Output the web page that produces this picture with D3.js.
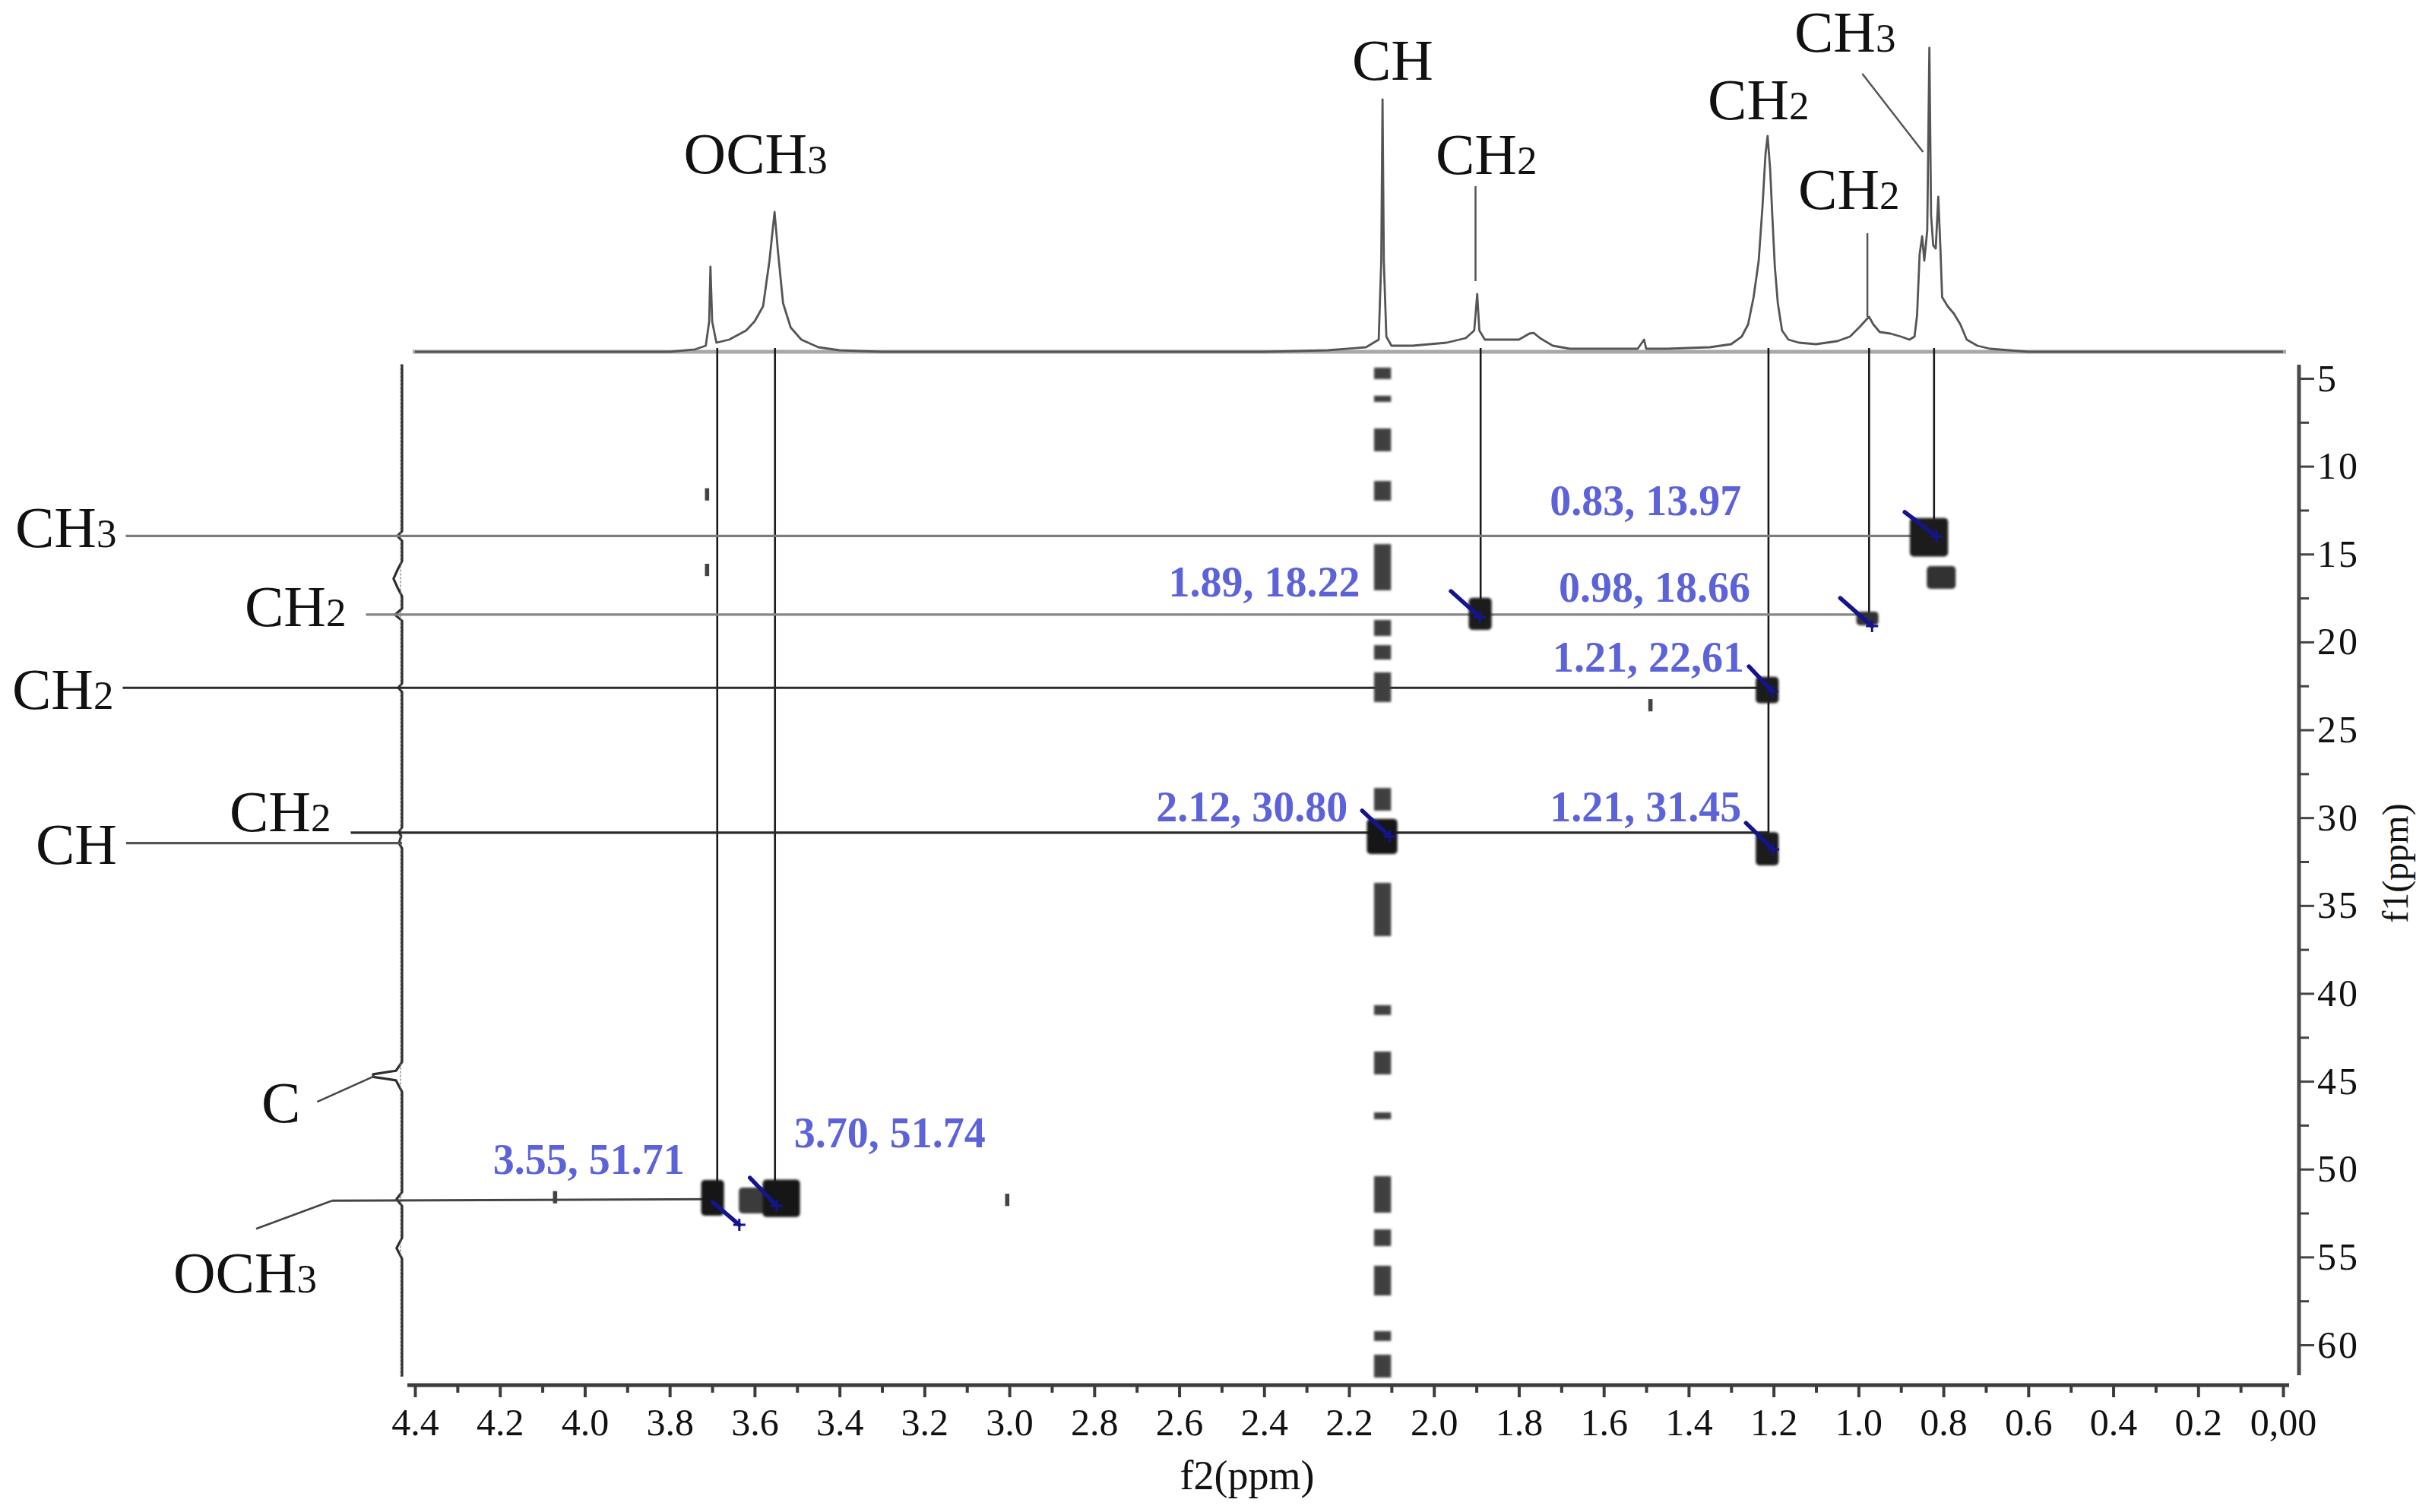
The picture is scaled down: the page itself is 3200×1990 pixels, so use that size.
<!DOCTYPE html>
<html><head><meta charset="utf-8">
<script src="https://cdn.jsdelivr.net/npm/d3@7/dist/d3.min.js"></script>
<style>
html,body{margin:0;padding:0;background:#fff;}
svg{display:block;font-family:"Liberation Serif","Times New Roman",serif;}
</style></head><body>
<svg id="chart" width="3200" height="1990"></svg>
<script>
// ---------------- DATA ----------------
const f2TickValues = [4.4,4.2,4.0,3.8,3.6,3.4,3.2,3.0,2.8,2.6,2.4,2.2,2.0,1.8,1.6,1.4,1.2,1.0,0.8,0.6,0.4,0.2,0.0];
const f2TickLabels = ["4.4","4.2","4.0","3.8","3.6","3.4","3.2","3.0","2.8","2.6","2.4","2.2","2.0","1.8","1.6","1.4","1.2","1.0","0.8","0.6","0.4","0.2","0,00"];
const f2MinorTicks = [4.3,4.1,3.9,3.7,3.5,3.3,3.1,2.9,2.7,2.5,2.3,2.1,1.9,1.7,1.5,1.3,1.1,0.9,0.7,0.5,0.3,0.1];
const f1TickValues = [5,10,15,20,25,30,35,40,45,50,55,60];
const f1TickLabels = ["5","10","15","20","25","30","35","40","45","50","55","60"];
const f1MinorTicks = [7.5,12.5,17.5,22.5,27.5,32.5,37.5,42.5,47.5,52.5,57.5];

// 1H projection (f2 ppm, intensity)
const protonSpectrum = [
 [4.40,0],[3.80,0],[3.74,0.8],[3.715,2],[3.707,10],[3.704,28],[3.700,10],[3.69,3],[3.66,4],[3.62,7],
 [3.60,10],[3.58,15],[3.565,30],[3.553,46],[3.545,33],[3.533,16],[3.515,8],[3.49,4],[3.45,1.5],[3.40,0.5],
 [3.30,0],[2.40,0],[2.25,0.5],[2.16,1.5],[2.13,4],[2.124,30],[2.121,83],[2.118,30],[2.112,5],[2.10,2],
 [2.05,2],[1.97,3],[1.925,4.5],[1.905,7],[1.898,19],[1.893,7],[1.88,4],[1.85,4],[1.80,4],[1.775,6],
 [1.765,6.2],[1.75,4.5],[1.72,2],[1.68,1],[1.60,1],[1.52,1],[1.505,4],[1.50,1],[1.45,1],[1.35,1.5],
 [1.30,2.5],[1.275,5],[1.26,9],[1.247,18],[1.235,30],[1.226,48],[1.219,65],[1.214,71],[1.208,60],[1.203,45],
 [1.197,28],[1.19,16],[1.18,7],[1.165,4],[1.14,3],[1.10,2.5],[1.05,3.5],[1.02,5],[0.995,8.5],[0.982,10.5],
 [0.975,11.5],[0.965,9],[0.95,6.5],[0.925,6],[0.90,5],[0.88,4],[0.868,5],[0.862,12],[0.856,32],[0.85,38],
 [0.845,30],[0.838,40],[0.833,100],[0.829,45],[0.824,35],[0.818,34],[0.812,51],[0.807,34],[0.803,18],[0.79,15],
 [0.775,12.5],[0.76,9],[0.745,4],[0.72,2],[0.69,1],[0.60,0],[0.00,0]
];

// 13C projection (f1 ppm, intensity)
const carbonProjection = [
 [4.2,0],[13.7,0],[13.97,1.5],[14.25,0],[15.4,0],[15.9,1.5],[16.4,2.8],[16.9,1.5],[17.4,0],[18.1,0],
 [18.45,2.3],[18.8,0],[22.35,0],[22.61,1.2],[22.85,0],[30.55,0],[30.8,1],[31.05,0.3],[31.45,1],[31.75,0],
 [43.9,0],[44.4,2],[44.6,9.5],[44.75,9.5],[44.95,2],[45.6,0],[51.3,0],[51.71,1.8],[52.1,0],[53.9,0],
 [54.5,1.8],[55.1,0],[61.8,0]
];

// HSQC cross peaks: f2 centre, f1 centre, f2 width (ppm), f1 height (ppm), tone
const crossPeaks = [
 {f2:3.699, f1:51.63, w:0.054, h:2.03, tone:"#151515"},
 {f2:3.604, f1:51.78, w:0.066, h:1.47, tone:"#3a3a3a"},
 {f2:3.537, f1:51.66, w:0.088, h:2.12, tone:"#151515"},
 {f2:2.122, f1:31.07, w:0.072, h:2.00, tone:"#151515"},
 {f2:1.891, f1:18.40, w:0.054, h:1.82, tone:"#1c1c1c"},
 {f2:1.215, f1:22.73, w:0.054, h:1.50, tone:"#1c1c1c"},
 {f2:1.215, f1:31.77, w:0.054, h:1.90, tone:"#1c1c1c"},
 {f2:0.979, f1:18.66, w:0.052, h:0.78, tone:"#333333"},
 {f2:0.834, f1:14.04, w:0.090, h:2.20, tone:"#1c1c1c"},
 {f2:0.805, f1:16.33, w:0.068, h:1.30, tone:"#303030"}
];

// t1 noise streak at f2 = 2.12 (f1 start, f1 end)
const t1StreakF2 = 2.121;
const t1Streak = [
 [4.39,5.04],[5.99,6.34],[7.85,9.15],[10.84,11.96],[14.43,17.06],[18.75,19.66],[20.18,21.0],[21.73,23.42],
 [28.31,29.6],[33.71,36.74],[40.67,41.23],[43.31,44.61],[46.77,47.16],[50.4,52.48],[53.43,54.38],
 [55.5,57.19],[59.22,59.78],[60.56,61.86]
];

// small noise specks (f2, f1)
const noiseSpecks = [[4.07,51.6],[3.005,51.75],[3.712,11.6],[3.712,15.9],[1.49,23.6]];

// blue cross-peak annotations
const crossLabels = [
 {text:"0.83, 13.97", f2:1.276, f1:12.78, from:[0.891,12.61], tip:[0.816,13.99]},
 {text:"1.89, 18.22", f2:2.174, f1:17.41, from:[1.960,17.11], tip:[1.892,18.58]},
 {text:"0.98, 18.66", f2:1.255, f1:17.71, from:[1.043,17.50], tip:[0.968,19.10]},
 {text:"1.21, 22,61", f2:1.269, f1:21.69, from:[1.258,21.39], tip:[1.203,22.81]},
 {text:"2.12, 30.80", f2:2.203, f1:30.21, from:[2.169,29.60], tip:[2.104,31.07]},
 {text:"1.21, 31.45", f2:1.276, f1:30.21, from:[1.265,30.30], tip:[1.201,31.81]},
 {text:"3.55, 51.71", f2:3.765, f1:50.27, from:[3.699,51.87], tip:[3.636,53.17]},
 {text:"3.70, 51.74", f2:3.056, f1:48.76, from:[3.611,50.49], tip:[3.548,52.09]}
];

// group labels on the 1H trace (left f2, baseline intensity)
const protonLabels = [
 {t:"OCH", s:"3", f2:3.767, I:58.75},
 {t:"CH",  s:"",  f2:2.193, I:89.5},
 {t:"CH",  s:"2", f2:1.996, I:58.5},
 {t:"CH",  s:"2", f2:1.355, I:76.5},
 {t:"CH",  s:"2", f2:1.142, I:47.0},
 {t:"CH",  s:"3", f2:1.151, I:98.75}
];
// leader lines on the 1H trace: [f2, I] -> [f2, I]
const protonLeaders = [
 [[1.902,54.5],[1.902,23.25]],
 [[0.979,39.0],[0.979,11.5]],
 [[0.991,91.5],[0.848,65.75]]
];

// correlation lines from the 1H peaks down to cross peaks (f2, f1 end)
const verticalLinks = [[3.688,51.71],[3.552,51.74],[1.890,18.40],[1.212,31.90],[0.975,18.90],[0.822,14.0]];

// group labels on the 13C side
const carbonLabels = [
 {t:"CH",  s:"3", f1:13.97, end:0.83,  tone:"#7c7c7c"},
 {t:"CH",  s:"2", f1:18.44, end:0.975, tone:"#858585"},
 {t:"CH",  s:"2", f1:22.61, end:1.21,  tone:"#2a2a2a"},
 {t:"CH",  s:"2", f1:30.85, end:1.21,  tone:"#2a2a2a"},
 {t:"CH",  s:"",  f1:31.45, end:null,  tone:"#555555"},
 {t:"C",   s:"",  f1:44.70, end:null,  tone:"#444444"},
 {t:"OCH", s:"3", f1:51.71, end:3.688, tone:"#444444"}
];
// layout of those labels (px x, baseline offset from the line)
const carbonLabelLayout = [
 {x:20,  dy:15},
 {x:322, dy:15},
 {x:16,  dy:28},
 {x:302, dy:-2},
 {x:47,  dy:27},
 {x:344, dy:61},
 {x:228, dy:123}
];

// ---------------- DRAWING ----------------
const svg = d3.select("#chart");
const x   = d3.scaleLinear().domain([4.4, 0]).range([546, 3004]);
const yF1 = d3.scaleLinear().domain([5, 60]).range([498, 1770]);
const yH  = d3.scaleLinear().domain([0, 100]).range([463, 63]);
const xC  = d3.scaleLinear().domain([0, 10]).range([529, 489]);

const defs = svg.append("defs");
defs.append("filter").attr("id","soft").append("feGaussianBlur").attr("stdDeviation",1.6);

// ---- 1H projection ----
svg.append("line").attr("x1",543).attr("x2",3008).attr("y1",yH(0)).attr("y2",yH(0))
  .attr("stroke","#a8a8a8").attr("stroke-width",5);
svg.append("path").datum(protonSpectrum)
  .attr("d", d3.line().x(d=>x(d[0])).y(d=>yH(d[1])))
  .attr("fill","none").attr("stroke","#555").attr("stroke-width",2.8).attr("stroke-linejoin","round");

protonLeaders.forEach(l=>{
  svg.append("line").attr("x1",x(l[0][0])).attr("y1",yH(l[0][1])).attr("x2",x(l[1][0])).attr("y2",yH(l[1][1]))
    .attr("stroke","#555").attr("stroke-width",2.5);
});

function groupLabel(sel, d, px, py){
  const t = sel.append("text").attr("x",px).attr("y",py).attr("font-size",77).attr("fill","#111").text(d.t);
  if (d.s) t.append("tspan").attr("font-size",53).text(d.s);
  return t;
}
protonLabels.forEach(d=>groupLabel(svg, d, x(d.f2), yH(d.I)));

// ---- 13C projection ----
svg.append("path").datum(carbonProjection)
  .attr("d", d3.line().x(d=>xC(d[1])).y(d=>yF1(d[0])))
  .attr("fill","none").attr("stroke","#2e2e2e").attr("stroke-width",3.2).attr("stroke-linejoin","round");
svg.append("line").attr("x1",xC(0)-2).attr("x2",xC(0)-2).attr("y1",yF1(4.2)).attr("y2",yF1(61.8))
  .attr("stroke","#777").attr("stroke-width",1.2).attr("stroke-dasharray","3,2");

// ---- vertical correlation lines ----
verticalLinks.forEach(v=>{
  svg.append("line").attr("x1",x(v[0])).attr("x2",x(v[0])).attr("y1",458).attr("y2",yF1(v[1]))
    .attr("stroke","#1a1a1a").attr("stroke-width",2.6);
});

// ---- 13C labels and horizontal lines ----
carbonLabels.forEach((d,i)=>{
  const L = carbonLabelLayout[i];
  const yLine = yF1(d.f1);
  const t = groupLabel(svg, d, L.x, yLine + L.dy);
  const w = t.node().getComputedTextLength();
  const xEnd = L.x + w;
  if (d.t === "C") {
    svg.append("line").attr("x1",xEnd+22).attr("y1",yLine+L.dy-27).attr("x2",xC(9.5)+2).attr("y2",yLine)
      .attr("stroke","#444").attr("stroke-width",2.5);
    return;
  }
  if (d.t === "OCH") {
    const x0 = L.x + 109, y0 = yLine + L.dy - 84;
    svg.append("line").attr("x1",x0).attr("y1",y0).attr("x2",x0+100).attr("y2",yLine+2)
      .attr("stroke","#444").attr("stroke-width",2.5);
    svg.append("line").attr("x1",x0+100).attr("x2",x(d.end)).attr("y1",yLine+2).attr("y2",yLine)
      .attr("stroke","#444").attr("stroke-width",3);
    return;
  }
  const xStart = xEnd + (L.x > 200 ? 26 : 12);
  const xStop = d.end === null ? xC(0) : x(d.end);
  svg.append("line").attr("x1",xStart).attr("x2",xStop).attr("y1",yLine).attr("y2",yLine)
    .attr("stroke",d.tone).attr("stroke-width",3.2);
});

// ---- t1 streak, specks, cross peaks ----
const streakG = svg.append("g").attr("filter","url(#soft)");
streakG.selectAll("rect").data(t1Streak).join("rect")
  .attr("x", x(t1StreakF2 + 0.02)).attr("width", x(t1StreakF2 - 0.02) - x(t1StreakF2 + 0.02))
  .attr("y", d=>yF1(d[0])).attr("height", d=>Math.max(4, yF1(d[1]) - yF1(d[0])))
  .attr("fill","#404040");
svg.append("g").selectAll("rect").data(noiseSpecks).join("rect")
  .attr("x", d=>x(d[0]+0.005)).attr("width", d=>x(d[0]-0.005)-x(d[0]+0.005))
  .attr("y", d=>yF1(d[1]-0.35)).attr("height", d=>yF1(d[1]+0.35)-yF1(d[1]-0.35))
  .attr("fill","#444");
svg.append("g").attr("filter","url(#soft)").selectAll("rect").data(crossPeaks).join("rect")
  .attr("x", d=>x(d.f2 + d.w/2)).attr("width", d=>x(d.f2 - d.w/2) - x(d.f2 + d.w/2))
  .attr("y", d=>yF1(d.f1 - d.h/2)).attr("height", d=>yF1(d.f1 + d.h/2) - yF1(d.f1 - d.h/2))
  .attr("rx",5).attr("fill", d=>d.tone);

// ---- blue annotations ----
crossLabels.forEach(d=>{
  const x1 = x(d.from[0]), y1 = yF1(d.from[1]), x2 = x(d.tip[0]), y2 = yF1(d.tip[1]);
  svg.append("line").attr("x1",x1).attr("y1",y1).attr("x2",x2).attr("y2",y2)
    .attr("stroke","#14148c").attr("stroke-width",5.5).attr("stroke-linecap","round");
  svg.append("path").attr("d",`M${x2-8},${y2}H${x2+8}M${x2},${y2-8}V${y2+8}`)
    .attr("stroke","#14148c").attr("stroke-width",3);
  svg.append("text").attr("x",x(d.f2)).attr("y",yF1(d.f1)).attr("text-anchor","end")
    .attr("font-size",56).attr("font-weight","bold").attr("fill","#5c63d9").text(d.text);
});

// ---- f2 axis (bottom) ----
const axisY = 1823;
svg.append("line").attr("x1",536).attr("x2",3012).attr("y1",axisY).attr("y2",axisY)
  .attr("stroke","#3c3c3c").attr("stroke-width",5);
const xAxis = d3.axisBottom(x).tickValues(f2TickValues).tickSize(16).tickPadding(14)
  .tickFormat((d,i)=>f2TickLabels[i]);
const gx = svg.append("g").attr("transform",`translate(0,${axisY})`).call(xAxis);
gx.select(".domain").remove();
gx.selectAll(".tick line").attr("stroke","#3c3c3c").attr("stroke-width",4);
gx.selectAll(".tick text").attr("font-family","Liberation Serif").attr("font-size",50).attr("fill","#111");
const gxm = svg.append("g").attr("transform",`translate(0,${axisY})`)
  .call(d3.axisBottom(x).tickValues(f2MinorTicks).tickSize(10).tickFormat(""));
gxm.select(".domain").remove();
gxm.selectAll(".tick line").attr("stroke","#3c3c3c").attr("stroke-width",4);
svg.append("text").attr("x",1641).attr("y",1960).attr("text-anchor","middle")
  .attr("font-size",54).attr("fill","#111").text("f2(ppm)");

// ---- f1 axis (right) ----
const axisX = 3025;
svg.append("line").attr("x1",axisX).attr("x2",axisX).attr("y1",480).attr("y2",1810)
  .attr("stroke","#4a4a4a").attr("stroke-width",5);
const yAxis = d3.axisRight(yF1).tickValues(f1TickValues).tickSize(20).tickPadding(4)
  .tickFormat((d,i)=>f1TickLabels[i]);
const gy = svg.append("g").attr("transform",`translate(${axisX},0)`).call(yAxis);
gy.select(".domain").remove();
gy.selectAll(".tick line").attr("stroke","#444").attr("stroke-width",3);
gy.selectAll(".tick text").attr("font-family","Liberation Serif").attr("font-size",50)
  .attr("letter-spacing",3).attr("fill","#111");
const gym = svg.append("g").attr("transform",`translate(${axisX},0)`)
  .call(d3.axisRight(yF1).tickValues(f1MinorTicks).tickSize(13).tickFormat(""));
gym.select(".domain").remove();
gym.selectAll(".tick line").attr("stroke","#444").attr("stroke-width",3);
svg.append("text").attr("transform","translate(3168,1136) rotate(-90)").attr("text-anchor","middle")
  .attr("font-size",48).attr("fill","#111").text("f1(ppm)");
</script>
</body></html>
